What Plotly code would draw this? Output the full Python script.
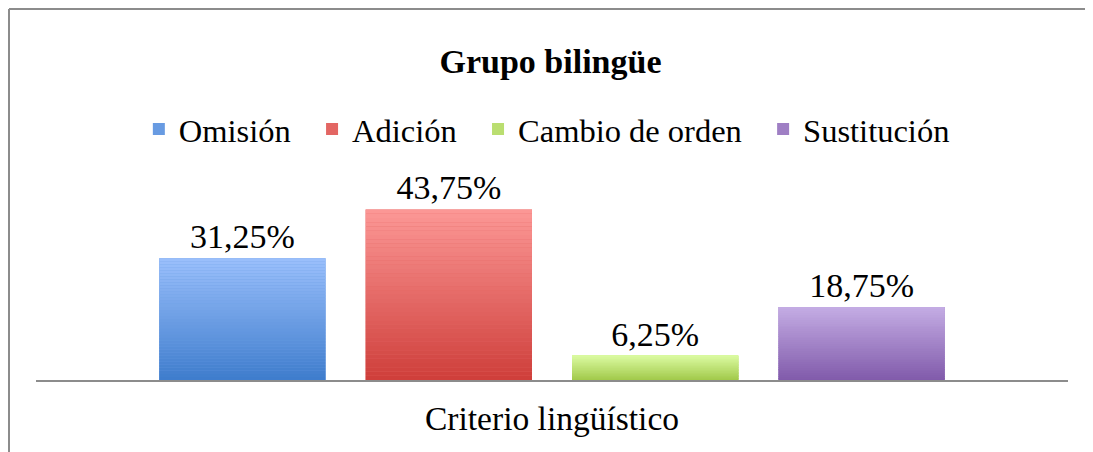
import plotly.graph_objects as go

# ---- data ----
category = ["Criterio lingüístico"]
series_names = ["Omisión", "Adición", "Cambio de orden", "Sustitución"]
values = [31.25, 43.75, 6.25, 18.75]
labels = ["31,25%", "43,75%", "6,25%", "18,75%"]

# ---- style ----
top_colors = [(155, 192, 252), (252, 152, 150), (218, 250, 160), (196, 172, 228)]
bottom_colors = [(62, 124, 204), (206, 62, 58), (160, 200, 72), (128, 90, 170)]
N_SEG = 40
FONT = "Liberation Serif"
PAD = "\u00a0\u00a0"  # extra spacing between legend entries

# the page body adds an 8px offset; size the figure to compensate
W, H = 1085, 444
ML, MR, MT, MB = 28, 25, 177, 72


def mix(c0, c1, t):
    return "rgb(%d,%d,%d)" % tuple(round(a + (b - a) * t) for a, b in zip(c0, c1))


fig = go.Figure()

# base traces: carry legend entry and data label
for i, (name, v, lab) in enumerate(zip(series_names, values, labels)):
    legend_name = name + (PAD if i < len(series_names) - 1 else "")
    fig.add_trace(go.Bar(
        x=category, y=[v], name=legend_name, offsetgroup=str(i), legendgroup=name,
        marker=dict(color=mix(bottom_colors[i], top_colors[i], 0.45), line=dict(width=0)),
        text=[lab], textposition="outside", cliponaxis=False,
        textfont=dict(family=FONT, size=34, color="#000000"),
        hovertemplate=name + ": " + lab + "<extra></extra>",
    ))

# gradient overlay built from the same values
for i, (name, v) in enumerate(zip(series_names, values)):
    for k in range(N_SEG):
        fig.add_trace(go.Bar(
            x=category, y=[v / N_SEG], base=[v * k / N_SEG],
            offsetgroup=str(i), legendgroup=name, showlegend=False,
            marker=dict(color=mix(bottom_colors[i], top_colors[i], (k + 0.5) / N_SEG),
                        line=dict(width=0)),
            hoverinfo="skip",
        ))

fig.update_layout(
    width=W, height=H,
    template="none",
    paper_bgcolor="white", plot_bgcolor="white",
    margin=dict(l=ML, r=MR, t=MT, b=MB),
    barmode="group", bargap=0.2, bargroupgap=0.194,
    title=dict(text="<b>Grupo bilingüe</b>", x=0.5, xanchor="center",
               y=1 - 53 / H, yanchor="middle",
               font=dict(family=FONT, size=34, color="#000000")),
    legend=dict(orientation="h", x=0.495, xanchor="center", y=1.285, yanchor="middle",
                font=dict(family=FONT, size=32.5, color="#000000"),
                bgcolor="rgba(0,0,0,0)", traceorder="normal"),
    showlegend=True,
    font=dict(family=FONT, color="#000000"),
)
fig.update_xaxes(showline=True, linecolor="#8c8c8c", linewidth=2, showgrid=False,
                 zeroline=False, ticks="", tickfont=dict(family=FONT, size=33.5, color="#000000"),
                 ticklabelstandoff=8)
fig.update_yaxes(range=[0, 50], visible=False, showgrid=False, zeroline=False)

# chart-area border (left, top, right edges), in paper units of the plot area
pw = W - ML - MR
ph = H - MT - MB
bx0 = (1 - ML) / pw
bx1 = (1080 - ML) / pw
by_top = (H - MB - 1) / ph
by_bot = -MB / ph - 0.1
border = dict(color="#8c8c8c", width=2)
fig.add_shape(type="line", xref="paper", yref="paper", x0=bx0, x1=bx0, y0=by_bot, y1=by_top, line=border)
fig.add_shape(type="line", xref="paper", yref="paper", x0=bx0, x1=bx1, y0=by_top, y1=by_top, line=border)
fig.add_shape(type="line", xref="paper", yref="paper", x0=bx1, x1=bx1, y0=by_bot, y1=by_top, line=border)

fig.write_html("out.html")
